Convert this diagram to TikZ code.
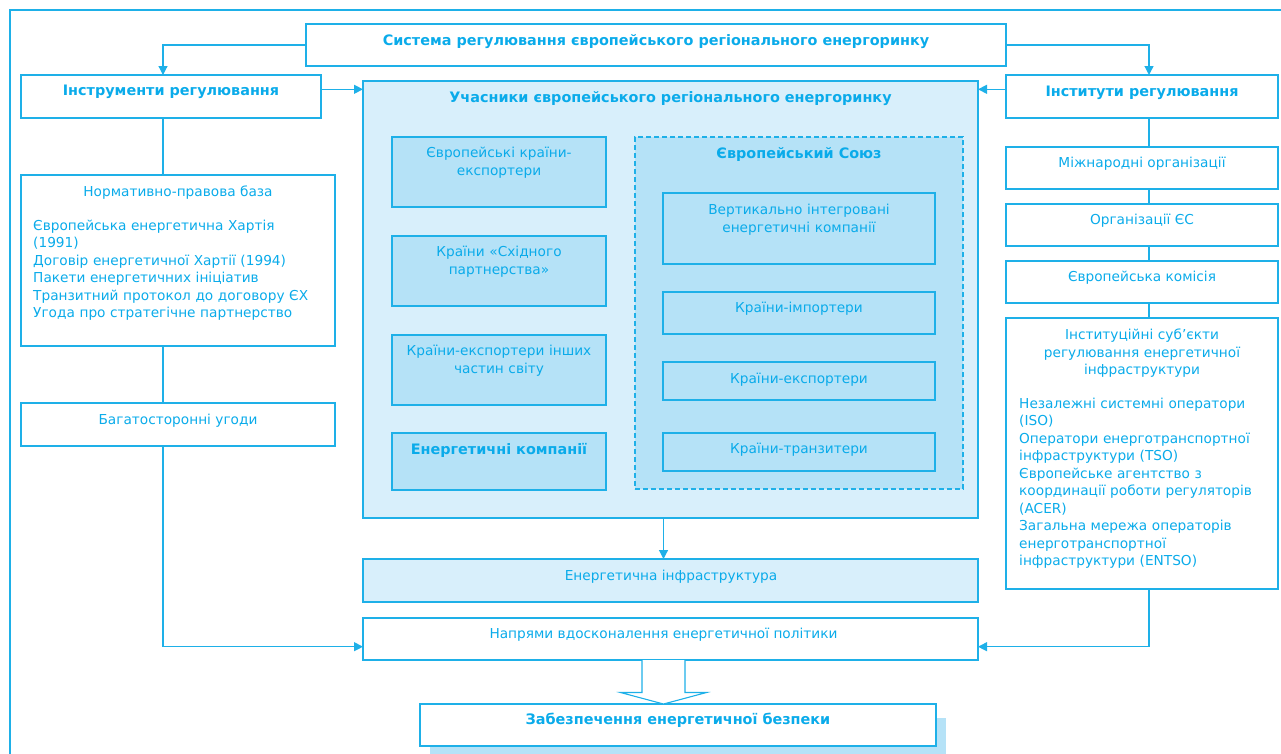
\documentclass[tikz,border=0pt]{standalone}
\usepackage{fontspec}
\setmainfont{DejaVu Sans}
\usetikzlibrary{arrows.meta}
\definecolor{cy}{HTML}{1EB0E8}
\definecolor{txtc}{HTML}{0AABEA}
\definecolor{fillA}{HTML}{D8EFFB}
\definecolor{fillB}{HTML}{B5E2F7}
\begin{document}
\begin{tikzpicture}[x=1pt,y=-1pt,
  box/.style={draw=cy, line width=1.3pt, inner sep=0pt, outer sep=0pt, anchor=north west},
  lbox/.style={box, fill=fillA},
  dbox/.style={box, fill=fillB},
  txt/.style={text=txtc, inner sep=0pt, anchor=base, font=\fontsize{13.7}{17.5}\selectfont},
  btxt/.style={txt, font=\fontsize{14.4}{17.5}\selectfont\bfseries},
  conn/.style={draw=cy, line width=1.2pt},
  arr/.style={conn, -{Triangle[length=9pt,width=9pt]}},
]
\useasboundingbox (0,0) rectangle (1281,753);
% outer frame (open at right and bottom)
\draw[cy, line width=2.8pt] (10,780) -- (10,10) -- (1300,10);

% boxes
\node[box, minimum width=700pt, minimum height=42pt] (top) at (306,24) {};
\node[box, minimum width=300pt, minimum height=43pt] (instr) at (21,75) {};
\node[box, minimum width=272pt, minimum height=43pt] (inst) at (1006,75) {};
\node[lbox, minimum width=615pt, minimum height=437pt] (part) at (363,81) {};
\node[dbox, minimum width=214pt, minimum height=70pt] (L1) at (392,137) {};
\node[dbox, minimum width=214pt, minimum height=70pt] (L2) at (392,236) {};
\node[dbox, minimum width=214pt, minimum height=70pt] (L3) at (392,335) {};
\node[dbox, minimum width=214pt, minimum height=57pt] (L4) at (392,433) {};
\node[dbox, dash pattern=on 5pt off 3pt, line width=1.1pt, minimum width=328pt, minimum height=352pt] (EU) at (635,137) {};
\node[dbox, minimum width=272pt, minimum height=71pt] (E1) at (663,193) {};
\node[dbox, minimum width=272pt, minimum height=42pt] (E2) at (663,292) {};
\node[dbox, minimum width=272pt, minimum height=38pt] (E3) at (663,362) {};
\node[dbox, minimum width=272pt, minimum height=38pt] (E4) at (663,433) {};
\node[box, minimum width=314pt, minimum height=171pt] (norm) at (21,175) {};
\node[box, minimum width=314pt, minimum height=43pt] (multi) at (21,403) {};
\node[box, minimum width=272pt, minimum height=42pt] (mizh) at (1006,147) {};
\node[box, minimum width=272pt, minimum height=42pt] (orgeu) at (1006,204) {};
\node[box, minimum width=272pt, minimum height=42pt] (ek) at (1006,261) {};
\node[box, minimum width=272pt, minimum height=271pt] (isub) at (1006,318) {};
\node[lbox, minimum width=615pt, minimum height=43pt] (infra) at (363,559) {};
\node[box, minimum width=615pt, minimum height=42pt] (policy) at (363,618) {};
\fill[fillB] (430,718) rectangle (946,780);
\node[box, fill=white, minimum width=516pt, minimum height=42pt] (sec) at (420,704) {};

% texts
\node[btxt] at (656,45) {Система регулювання європейського регіонального енергоринку};
\node[btxt] at (171,95.5) {Інструменти регулювання};
\node[btxt] at (1142,96) {Інститути регулювання};
\node[btxt] at (670.5,102) {Учасники європейського регіонального енергоринку};
\node[txt, text width=212pt, align=center] at (499,157.5) {Європейські країни-\\експортери};
\node[txt, text width=212pt, align=center] at (499,256.5) {Країни «Східного\\партнерства»};
\node[txt, text width=212pt, align=center] at (499,355.5) {Країни-експортери інших\\частин світу};
\node[btxt] at (499,454) {Енергетичні компанії};
\node[btxt] at (799,158) {Європейський Союз};
\node[txt, text width=268pt, align=center] at (799,214.5) {Вертикально інтегровані\\енергетичні компанії};
\node[txt] at (799,312.5) {Країни-імпортери};
\node[txt] at (799,383.5) {Країни-експортери};
\node[txt] at (799,453.5) {Країни-транзитери};
\node[txt] at (178,196) {Нормативно-правова база};
\node[txt, anchor=base west, text width=300pt, align=left] at (33,230) {Європейська енергетична Хартія\\(1991)\\Договір енергетичної Хартії (1994)\\Пакети енергетичних ініціатив\\Транзитний протокол до договору ЄХ\\Угода про стратегічне партнерство};
\node[txt] at (178,424) {Багатосторонні угоди};
\node[txt] at (1142,167) {Міжнародні організації};
\node[txt] at (1142,224.5) {Організації ЄС};
\node[txt] at (1142,281) {Європейська комісія};
\node[txt, text width=268pt, align=center] at (1142,339.5) {Інституційні суб’єкти\\регулювання енергетичної\\інфраструктури};
\node[txt, anchor=base west, text width=258pt, align=left] at (1019,408) {Незалежні системні оператори\\(ISO)\\Оператори енерготранспортної\\інфраструктури (TSO)\\Європейське агентство з\\координації роботи регуляторів\\(ACER)\\Загальна мережа операторів\\енерготранспортної\\інфраструктури (ENTSO)};
\node[txt] at (671,580.5) {Енергетична інфраструктура};
\node[txt] at (663.5,638) {Напрями вдосконалення енергетичної політики};
\node[btxt] at (678,724) {Забезпечення енергетичної безпеки};

% helper coordinates
\coordinate (lx) at (163,0);
\coordinate (rx) at (1149,0);
\coordinate (ay) at (0,89.3);
\coordinate (py) at (0,646.7);
\coordinate (mx) at (663.5,0);

% connectors
\draw[arr] (top.west) -| (lx |- instr.north);
\draw[arr] (top.east) -| (rx |- inst.north);
\draw[arr] (instr.east |- ay) -- (part.west |- ay);
\draw[arr] (inst.west |- ay) -- (part.east |- ay);
\draw[conn] (lx |- instr.south) -- (lx |- norm.north);
\draw[conn] (lx |- norm.south) -- (lx |- multi.north);
\draw[arr] (lx |- multi.south) |- (policy.west |- py);
\draw[conn] (rx |- inst.south) -- (rx |- mizh.north);
\draw[conn] (rx |- mizh.south) -- (rx |- orgeu.north);
\draw[conn] (rx |- orgeu.south) -- (rx |- ek.north);
\draw[conn] (rx |- ek.south) -- (rx |- isub.north);
\draw[arr] (rx |- isub.south) |- (policy.east |- py);
\draw[arr] (mx |- part.south) -- (mx |- infra.north);

% hollow arrow
\coordinate (h0) at (mx |- policy.south);
\coordinate (h1) at (mx |- sec.north);
\draw[conn, line width=1.1pt, fill=white, line join=miter]
  ([xshift=-21.5pt]h0) -- ([xshift=-21.5pt,yshift=-32.5pt]h0) -- ([xshift=-43pt,yshift=-32.5pt]h0)
  -- (h1) -- ([xshift=43pt,yshift=-32.5pt]h0) -- ([xshift=21.5pt,yshift=-32.5pt]h0) -- ([xshift=21.5pt]h0);
\end{tikzpicture}
\end{document}
